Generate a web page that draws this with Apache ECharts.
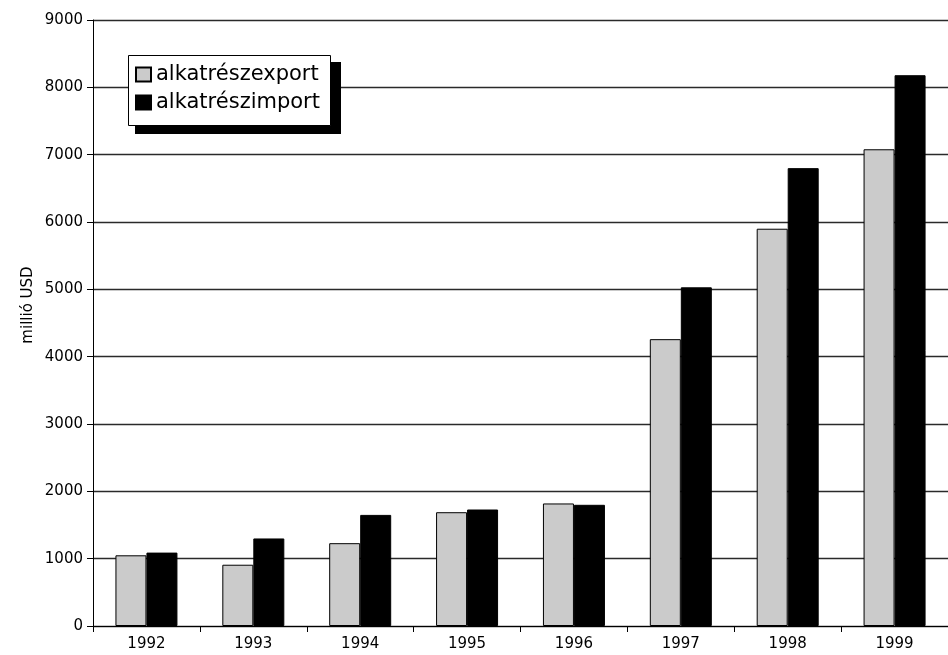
<!DOCTYPE html>
<html>
<head>
<meta charset="utf-8">
<script src="https://cdn.jsdelivr.net/npm/echarts@6/dist/echarts.min.js"></script>
<style>
  html, body { margin: 0; padding: 0; background: #fff; }
  #chart { width: 948px; height: 655px; }
</style>
</head>
<body>
<div id="chart"></div>
<script>
// Component trade, million USD
const years = ['1992', '1993', '1994', '1995', '1996', '1997', '1998', '1999'];
const exportValues = [1050, 910, 1230, 1690, 1820, 4260, 5900, 7080];
const importValues = [1090, 1300, 1650, 1730, 1800, 5030, 6800, 8180];
const seriesNames = ['alkatrészexport', 'alkatrészimport'];
const axisTitle = 'millió USD';

const FONT = 'DejaVu Sans';
const chart = echarts.init(document.getElementById('chart'), null, { renderer: 'canvas' });

chart.setOption({
  animation: false,
  backgroundColor: '#ffffff',
  grid: { left: 93, top: 20, bottom: 29, right: -9, containLabel: false },
  legend: {
    orient: 'vertical',
    left: 135,
    top: 64,
    padding: 0,
    itemGap: 7,
    itemWidth: 15,
    itemHeight: 14,
    icon: 'rect',
    textStyle: { fontFamily: FONT, fontSize: 21, color: '#000', lineHeight: 21 },
    data: seriesNames
  },
  xAxis: {
    type: 'category',
    data: years,
    axisLine: { lineStyle: { color: '#000', width: 1 } },
    axisTick: { show: true, length: 6, inside: false, alignWithLabel: false, lineStyle: { color: '#000' } },
    axisLabel: { fontFamily: FONT, fontSize: 15, color: '#000', margin: 11 },
    splitLine: { show: false }
  },
  yAxis: {
    type: 'value',
    min: 0,
    max: 9000,
    interval: 1000,
    axisLine: { show: true, lineStyle: { color: '#000', width: 1 } },
    axisTick: { show: true, length: 6, lineStyle: { color: '#000' } },
    axisLabel: { fontFamily: FONT, fontSize: 15, color: '#000', margin: 10, formatter: v => String(v) },
    splitLine: { show: true, lineStyle: { color: '#2a2a2a', width: 1.3 } }
  },
  graphic: [
    {
      // drop shadow behind the legend frame
      type: 'rect',
      z: 3,
      shape: { x: 135, y: 62, width: 206, height: 72 },
      style: { fill: '#000000' }
    },
    {
      // legend frame
      type: 'rect',
      z: 3,
      shape: { x: 128.5, y: 55.5, width: 202, height: 70 },
      style: { fill: '#ffffff', stroke: '#000000', lineWidth: 1 }
    },
    {
      type: 'text',
      x: 28,
      y: 305,
      rotation: Math.PI / 2,
      style: {
        text: axisTitle,
        fontFamily: FONT,
        fontSize: 15,
        fill: '#000',
        align: 'center',
        verticalAlign: 'middle'
      }
    }
  ],
  series: [
    {
      name: seriesNames[0],
      type: 'bar',
      data: exportValues,
      barWidth: 31,
      barGap: '0%',
      itemStyle: { color: '#cbcbcb', borderColor: '#000', borderWidth: 1 }
    },
    {
      name: seriesNames[1],
      type: 'bar',
      data: importValues,
      barWidth: 31,
      barGap: '0%',
      itemStyle: { color: '#000000', borderColor: '#000', borderWidth: 1 }
    }
  ]
});
</script>
</body>
</html>
